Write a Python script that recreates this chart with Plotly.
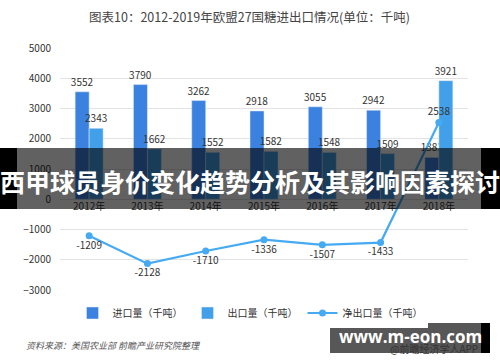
import plotly.graph_objects as go

years = ["2012年", "2013年", "2014年", "2015年", "2016年", "2017年", "2018年"]
imports = [3552, 3790, 3262, 2918, 3055, 2942, 1383]
exports = [2343, 1662, 1552, 1582, 1548, 1509, 3921]
net_exports = [-1209, -2128, -1710, -1336, -1507, -1433, 2538]
net_text_pos = ["bottom center"] * 6 + ["top center"]

W, H = 500, 362
L, R, T, B = 60, 32, 48, 72
PW, PH = W - L - R, H - T - B
FONT = "Noto Sans CJK SC, Noto Sans, sans-serif"


def px(x):
    return (x - L) / PW


def py(y):
    return (H - B - y) / PH


fig = go.Figure()
fig.add_trace(go.Bar(
    x=years, y=imports, name="进口量（千吨）", marker_color="#3b82e0",
    text=imports, textposition="outside", cliponaxis=False, constraintext="none",
    textfont=dict(size=10, color="#333333"),
))
fig.add_trace(go.Bar(
    x=years, y=exports, name="出口量（千吨）", marker_color="#42a0ea",
    text=exports, textposition="outside", cliponaxis=False, constraintext="none",
    textfont=dict(size=10, color="#333333"),
))
fig.add_trace(go.Scatter(
    x=years, y=net_exports, name="净出口量（千吨）", mode="lines+markers+text",
    line=dict(color="#45aaf2", width=2.2), marker=dict(size=7, color="#45aaf2"),
    text=net_exports, textposition=net_text_pos, cliponaxis=False,
    textfont=dict(size=10, color="#333333"),
))

shapes = [
    dict(type="rect", xref="paper", yref="paper", x0=px(17), x1=px(481), y0=py(209), y1=py(148),
         fillcolor="rgba(0,0,0,0.62)", line=dict(width=0), layer="above"),
    dict(type="rect", xref="paper", yref="paper", x0=px(0), x1=px(17), y0=py(209), y1=py(148),
         fillcolor="#000000", line=dict(width=0), layer="above"),
    dict(type="rect", xref="paper", yref="paper", x0=px(481), x1=px(500), y0=py(209), y1=py(148),
         fillcolor="#000000", line=dict(width=0), layer="above"),
    dict(type="rect", xref="paper", yref="paper", x0=px(330), x1=px(481), y0=py(353), y1=py(323),
         fillcolor="rgba(0,0,0,0.66)", line=dict(width=0), layer="above"),
    dict(type="rect", xref="paper", yref="paper", x0=px(481), x1=px(490), y0=py(353), y1=py(323),
         fillcolor="#000000", line=dict(width=0), layer="above"),
]

annotations = [
    dict(text="图表10：2012-2019年欧盟27国糖进出口情况(单位：千吨)", xref="paper", yref="paper",
         x=px(249), y=py(16), showarrow=False, xanchor="center", yanchor="middle",
         font=dict(size=12.5, color="#444444", family=FONT)),
    dict(text="<i>资料来源：美国农业部 前瞻产业研究院整理</i>", xref="paper", yref="paper",
         x=px(24), y=py(345), showarrow=False, xanchor="left", yanchor="middle",
         font=dict(size=9, color="#555555", family=FONT)),
    dict(text="@前瞻经济学人APP", xref="paper", yref="paper",
         x=px(480), y=py(348), showarrow=False, xanchor="right", yanchor="middle",
         font=dict(size=10, color="#333333", family=FONT)),
    dict(text="<b>www.m-eon.com</b>", xref="paper", yref="paper",
         x=px(410), y=py(336), showarrow=False, xanchor="center", yanchor="middle",
         font=dict(size=17, color="#ffffff", family="Open Sans, DejaVu Sans, sans-serif")),
    dict(text="<b>西甲球员身价变化趋势分析及其影响因素探讨</b>", xref="paper", yref="paper",
         x=px(250), y=py(181), showarrow=False, xanchor="center", yanchor="middle",
         font=dict(size=25, color="#ffffff", family=FONT)),
]

fig.update_layout(
    width=W, height=H,
    margin=dict(l=L, r=R, t=T, b=B),
    paper_bgcolor="white", plot_bgcolor="white",
    font=dict(family=FONT, size=10, color="#333333"),
    barmode="group", bargap=0.52, bargroupgap=0,
    showlegend=True,
    legend=dict(orientation="h", x=px(250), xanchor="center", y=py(313), yanchor="middle",
                font=dict(size=10, color="#333333"), itemwidth=30, traceorder="normal"),
    shapes=shapes, annotations=annotations,
)
fig.update_yaxes(range=[-3000, 5000], dtick=1000, showgrid=True, gridcolor="#e3e3e3",
                 zeroline=False, showline=False, ticks="", tickfont=dict(size=10, color="#333333"),
                 ticklabelstandoff=8)
fig.update_xaxes(type="category", anchor="free", position=3 / 8, showline=False, ticks="",
                 showgrid=False, tickfont=dict(size=10, color="#333333"))

fig.write_html("out.html")
